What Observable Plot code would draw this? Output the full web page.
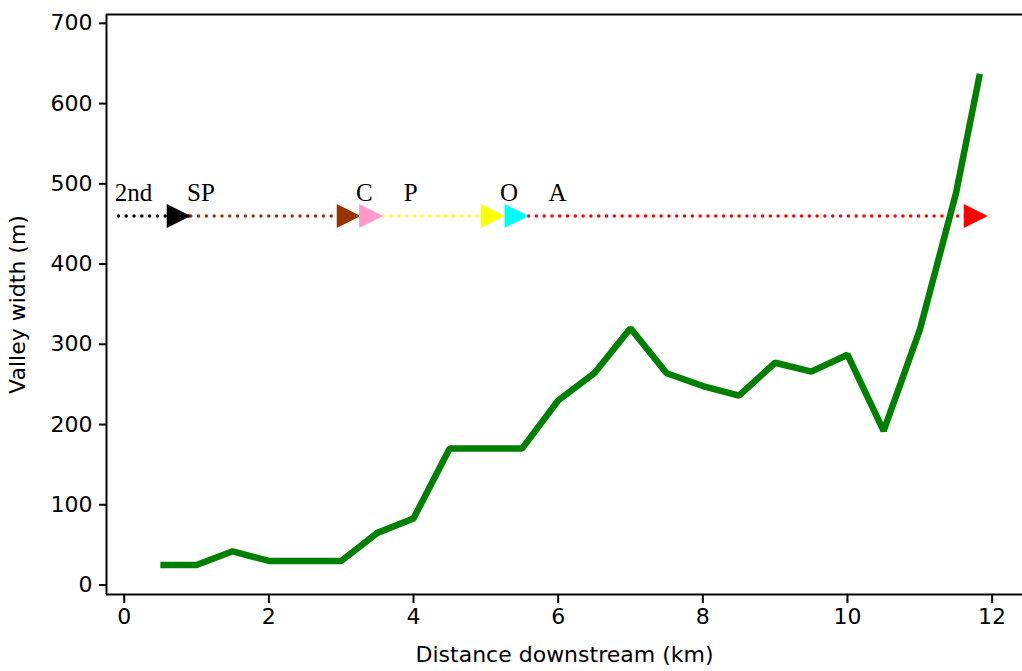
<!DOCTYPE html>
<html>
<head>
<meta charset="utf-8">
<script src="https://cdn.jsdelivr.net/npm/d3@7"></script>
<script src="https://cdn.jsdelivr.net/npm/@observablehq/plot@0.6"></script>
<style>
  html, body { margin: 0; padding: 0; background: #fff; }
  #chart svg { display: block; }
</style>
</head>
<body>
<div id="chart"></div>
<script>
// Valley width profile
const distanceKm = [0.5, 1, 1.5, 2, 2.5, 3, 3.5, 4, 4.5, 5, 5.5, 6, 6.5, 7, 7.5, 8, 8.5, 9, 9.5, 10, 10.5, 11, 11.5, 11.83];
const valleyWidth = [25, 25, 42, 30, 30, 30, 65, 83, 170, 170, 170, 230, 264, 320, 264, 248, 236, 277, 266, 287, 192, 318, 488, 637];

// Zone arrows (dotted lead-in segments ending in triangle tips)
const zoneLevel = 460;
const segStart = [-0.08, 0.92, 3.58, 5.59];
const segEnd   = [0.92, 3.27, 5.26, 11.94];
const segColor = ["#000000", "#993300", "#ffff00", "#ff0000"];
const tipX     = [0.92, 3.27, 3.58, 5.26, 5.59, 11.94];
const tipColor = ["#000000", "#993300", "#ff99cc", "#ffff00", "#00ffff", "#ff0000"];

// Zone labels
const zoneLabels = ["2nd", "SP", "C", "P", "O", "A"];
const labelX = [0.13, 1.06, 3.32, 3.96, 5.32, 5.99];
const labelLevel = 489;

const xTicks = [0, 2, 4, 6, 8, 10, 12];
const yTicks = [0, 100, 200, 300, 400, 500, 600, 700];
const xDomain = [-0.245, 12.42];
const yDomain = [-11.8, 711];

const profile = distanceKm.map((d, i) => ({d, w: valleyWidth[i]}));
const segments = segStart.map((s, i) => ({x1: s, x2: segEnd[i], y: zoneLevel, c: segColor[i]}));
const tips = tipX.map((t, i) => ({x: t, y: zoneLevel, c: tipColor[i]}));
const labels = zoneLabels.map((t, i) => ({t, x: labelX[i], y: labelLevel}));

const triangleRight = {
  draw(context, size) {
    const r = Math.sqrt(size / Math.PI);
    context.moveTo(0, 0);
    context.lineTo(-2 * r, -r);
    context.lineTo(-2 * r, r);
    context.closePath();
  }
};

const chart = Plot.plot({
  width: 1022,
  height: 671,
  marginLeft: 106,
  marginRight: 0,
  marginTop: 14,
  marginBottom: 77,
  style: {fontFamily: "'DejaVu Sans', Verdana, sans-serif", fontSize: "22px", color: "#000", background: "#fff"},
  x: {domain: xDomain},
  y: {domain: yDomain},
  color: {type: "identity"},
  marks: [
    Plot.axisX({ticks: xTicks, tickSize: 9, tickPadding: 5, strokeWidth: 2, tickFormat: d3.format("d"),
      label: "Distance downstream (km)", labelAnchor: "center", labelOffset: 67, labelArrow: "none"}),
    Plot.axisY({ticks: yTicks, tickSize: 7, tickPadding: 7, strokeWidth: 2, tickFormat: d3.format("d"),
      label: "Valley width (m)", labelAnchor: "center", labelOffset: 97, labelArrow: "none"}),
    Plot.ruleX([xDomain[0]], {stroke: "#000", strokeWidth: 2}),
    Plot.ruleY([yDomain[0], yDomain[1]], {stroke: "#000", strokeWidth: 2}),
    Plot.link(segments, {x1: "x1", x2: "x2", y1: "y", y2: "y", stroke: "c", strokeWidth: 3.5,
      strokeDasharray: "0 7.8", strokeLinecap: "round"}),
    Plot.dot(tips, {x: "x", y: "y", fill: "c", symbol: triangleRight, r: 12, stroke: "none"}),
    Plot.text(labels, {x: "x", y: "y", text: "t", fontFamily: "'Liberation Serif', 'Times New Roman', serif",
      fontSize: 25, fill: "#000", textAnchor: "middle", lineAnchor: "middle"}),
    Plot.line(profile, {x: "d", y: "w", stroke: "#008000", strokeWidth: 6.5, strokeLinejoin: "miter", strokeLinecap: "butt"})
  ]
});
document.getElementById("chart").appendChild(chart);
</script>
</body>
</html>
